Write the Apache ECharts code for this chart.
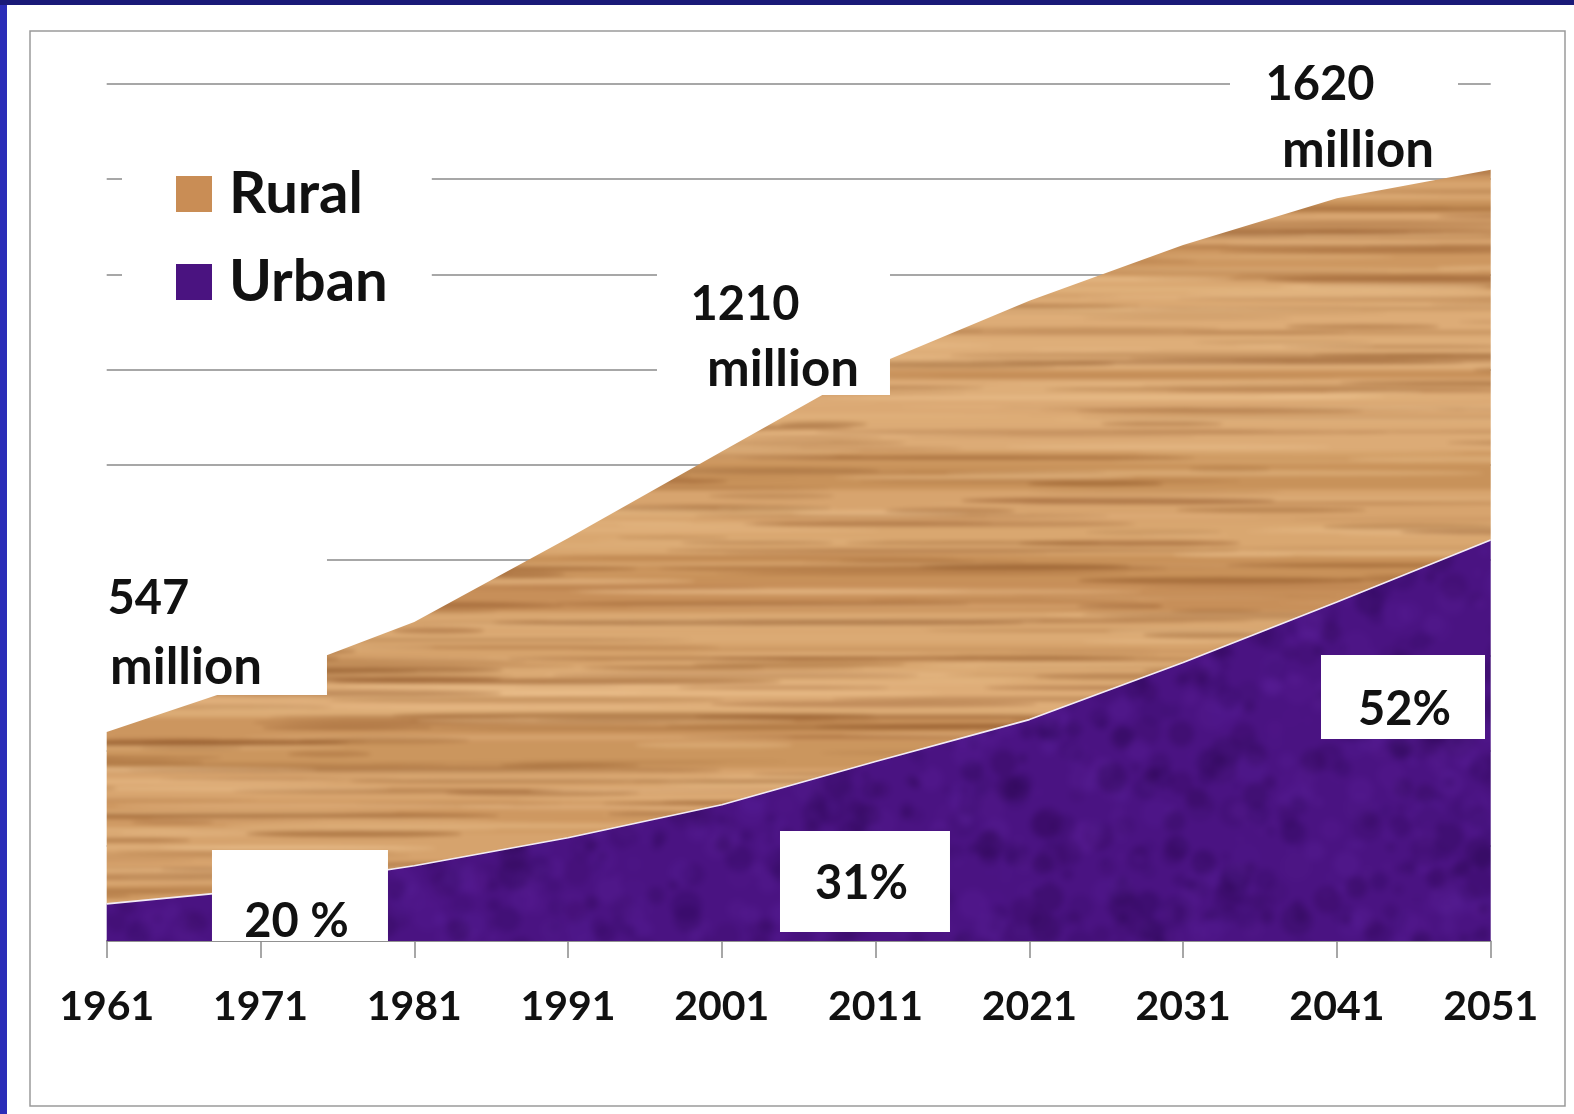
<!DOCTYPE html>
<html>
<head>
<meta charset="utf-8">
<script src="https://cdn.jsdelivr.net/npm/echarts@6/dist/echarts.min.js"></script>
<style>
  html, body { margin: 0; padding: 0; background: #ffffff; }
  #chart { width: 1574px; height: 1114px; }
</style>
</head>
<body>
<div id="chart"></div>
<script>
// Population of India, rural and urban, in millions (census years and projections)
const years = ['1961', '1971', '1981', '1991', '2001', '2011', '2021', '2031', '2041', '2051'];
const urban = [78, 109, 158, 217, 286, 377, 465, 585, 712, 842];
const rural = [361, 438, 512, 629, 742, 833, 880, 877, 848, 778];

// Value axis range (millions)
const yMin = 0;
const yMax = 1800;
const yStep = 200;

// Call-out texts: total population and urban share
const totalYears = ['1971', '2011', '2051'];
const totalTexts = ['547', '1210', '1620'];
const shareYears = ['1971', '2011', '2051'];
const shareTexts = ['20 %', '31%', '52%'];

const FONT = 'Lato, "Open Sans", sans-serif';

// Small deterministic generator for the surface textures
function makeRng(seed) {
  let s = seed;
  return function () { s = (s * 16807) % 2147483647; return s / 2147483647; };
}

// Oak-like grain for the rural band
function woodGrain(w, h) {
  const raw = document.createElement('canvas');
  raw.width = w; raw.height = h;
  const g = raw.getContext('2d');
  const rnd = makeRng(24681);
  g.fillStyle = '#D29D66';
  g.fillRect(0, 0, w, h);
  for (let y = 0; y < h;) {
    const t = 8 + rnd() * 26;
    const light = rnd() < 0.55;
    g.fillStyle = light
      ? 'rgba(232,188,136,' + (0.2 + rnd() * 0.35) + ')'
      : 'rgba(176,116,60,' + (0.1 + rnd() * 0.25) + ')';
    g.fillRect(0, y, w, t);
    y += t;
  }
  for (let i = 0; i < 1150; i++) {
    const cx = rnd() * w, cy = rnd() * h;
    const len = 80 + rnd() * 520, th = 1.5 + rnd() * 5;
    const dark = rnd() < 0.6;
    g.fillStyle = dark
      ? 'rgba(130,72,28,' + (0.12 + rnd() * 0.38) + ')'
      : 'rgba(240,200,150,' + (0.15 + rnd() * 0.35) + ')';
    g.beginPath();
    g.ellipse(cx, cy, len / 2, th / 2, 0, 0, Math.PI * 2);
    g.fill();
  }
  const out = document.createElement('canvas');
  out.width = w; out.height = h;
  const o = out.getContext('2d');
  o.filter = 'blur(2.2px)';
  o.drawImage(raw, 0, 0);
  return out;
}

// Mottled velvet for the urban band
function velvet(w, h) {
  const raw = document.createElement('canvas');
  raw.width = w; raw.height = h;
  const g = raw.getContext('2d');
  const rnd = makeRng(13579);
  g.fillStyle = '#4A1382';
  g.fillRect(0, 0, w, h);
  for (let i = 0; i < 5200; i++) {
    const cx = rnd() * w, cy = rnd() * h;
    const r = 3 + rnd() * 13;
    const dark = rnd() < 0.55;
    g.fillStyle = dark
      ? 'rgba(40,6,76,' + (0.08 + rnd() * 0.22) + ')'
      : 'rgba(96,36,160,' + (0.06 + rnd() * 0.2) + ')';
    g.beginPath();
    g.arc(cx, cy, r, 0, Math.PI * 2);
    g.fill();
  }
  const out = document.createElement('canvas');
  out.width = w; out.height = h;
  const o = out.getContext('2d');
  o.filter = 'blur(3px)';
  o.drawImage(raw, 0, 0);
  return out;
}

const woodCanvas = woodGrain(1574, 1114);
const velvetCanvas = velvet(1574, 1114);

const chart = echarts.init(document.getElementById('chart'), null, { renderer: 'canvas' });

const option = {
  animation: false,
  backgroundColor: '#ffffff',
  grid: { left: 106.7, right: 83.3, top: 84, bottom: 173, containLabel: false },
  legend: {
    orient: 'vertical',
    left: 122,
    top: 142,
    padding: [22, 44, 10, 54],
    backgroundColor: '#ffffff',
    itemWidth: 36,
    itemHeight: 36,
    itemGap: 28,
    icon: 'rect',
    data: [
      { name: 'Rural', itemStyle: { color: '#C98D55' } },
      { name: 'Urban', itemStyle: { color: '#4A1380' } }
    ],
    textStyle: {
      fontFamily: FONT, fontWeight: 'bold', fontSize: 58, color: '#111111',
      lineHeight: 60, padding: [0, 0, 0, 12]
    }
  },
  xAxis: {
    type: 'category',
    data: years,
    boundaryGap: false,
    axisLine: { lineStyle: { color: '#8a8a8a', width: 1.5 } },
    axisTick: { length: 17, lineStyle: { color: '#8a8a8a', width: 1.5 } },
    axisLabel: {
      interval: 0, margin: 45,
      fontFamily: FONT, fontWeight: 'bold', fontSize: 41, color: '#111111'
    },
    splitLine: { show: false }
  },
  yAxis: {
    type: 'value',
    min: yMin, max: yMax, interval: yStep,
    axisLine: { show: false },
    axisTick: { show: false },
    axisLabel: { show: false },
    splitLine: { lineStyle: { color: '#8a8a8a', width: 1.5 } }
  },
  series: [
    {
      name: 'Urban', type: 'line', stack: 'population', data: urban,
      symbol: 'none', z: 3,
      itemStyle: { color: '#4A1380' },
      lineStyle: { color: '#f3ecf6', width: 1.6 },
      areaStyle: { color: { image: velvetCanvas, repeat: 'repeat' }, opacity: 1 }
    },
    {
      name: 'Rural', type: 'line', stack: 'population', data: rural,
      symbol: 'none', z: 2,
      itemStyle: { color: '#C98D55' },
      lineStyle: { width: 0 },
      areaStyle: { color: { image: woodCanvas, repeat: 'repeat' }, opacity: 1 }
    }
  ]
};

chart.setOption(option);

// Call-out boxes, placed relative to the point they describe
const totalLayout = [
  { box: [-155.5, -140.6, 222, 155], l1: [-112, -82], l2: [-74.5, -13] },
  { box: [-218.6, -114.9, 233, 145], l1: [-130.6, -60.4], l2: [-92.6, 4.6] },
  { box: [-260.7, -124.7, 228, 127], l1: [-170.7, -84.7], l2: [-132.7, -19.2] }
];
const shareLayout = [
  { box: [-48.5, -39.1, 176, 91], t: [36, 32.4] },
  { box: [-95.6, 69.5, 170, 101], t: [-14.1, 122] },
  { box: [-169.7, 114.9, 164, 84], t: [-86.2, 169.4] }
];

function textEl(x, y, text, size) {
  return {
    type: 'text', x: x, y: y, z: 20,
    style: {
      text: text, fill: '#111111', align: 'center', verticalAlign: 'middle',
      font: 'bold ' + size + 'px ' + FONT
    }
  };
}
function boxEl(x, y, w, h) {
  return { type: 'rect', z: 19, shape: { x: x, y: y, width: w, height: h }, style: { fill: '#ffffff' } };
}

const graphics = [
  // slide frame
  { type: 'rect', z: 0, shape: { x: 0, y: 0, width: 7, height: 1114 }, style: { fill: '#2B2DB8' } },
  { type: 'rect', z: 0, shape: { x: 0, y: 0, width: 1574, height: 5 }, style: { fill: '#1A1A78' } },
  { type: 'rect', z: 0, shape: { x: 30, y: 31, width: 1535, height: 1075 },
    style: { fill: 'none', stroke: '#9a9a9a', lineWidth: 1.5 } }
];

totalYears.forEach(function (yr, i) {
  const idx = years.indexOf(yr);
  const p = chart.convertToPixel({ gridIndex: 0 }, [idx, urban[idx] + rural[idx]]);
  const L = totalLayout[i];
  graphics.push(boxEl(p[0] + L.box[0], p[1] + L.box[1], L.box[2], L.box[3]));
  graphics.push(textEl(p[0] + L.l1[0], p[1] + L.l1[1], totalTexts[i], 47));
  graphics.push(textEl(p[0] + L.l2[0], p[1] + L.l2[1], 'million', 51));
});

shareYears.forEach(function (yr, i) {
  const idx = years.indexOf(yr);
  const p = chart.convertToPixel({ gridIndex: 0 }, [idx, urban[idx]]);
  const L = shareLayout[i];
  graphics.push(boxEl(p[0] + L.box[0], p[1] + L.box[1], L.box[2], L.box[3]));
  graphics.push(textEl(p[0] + L.t[0], p[1] + L.t[1], shareTexts[i], 47));
});

chart.setOption({ graphic: graphics });
</script>
</body>
</html>
